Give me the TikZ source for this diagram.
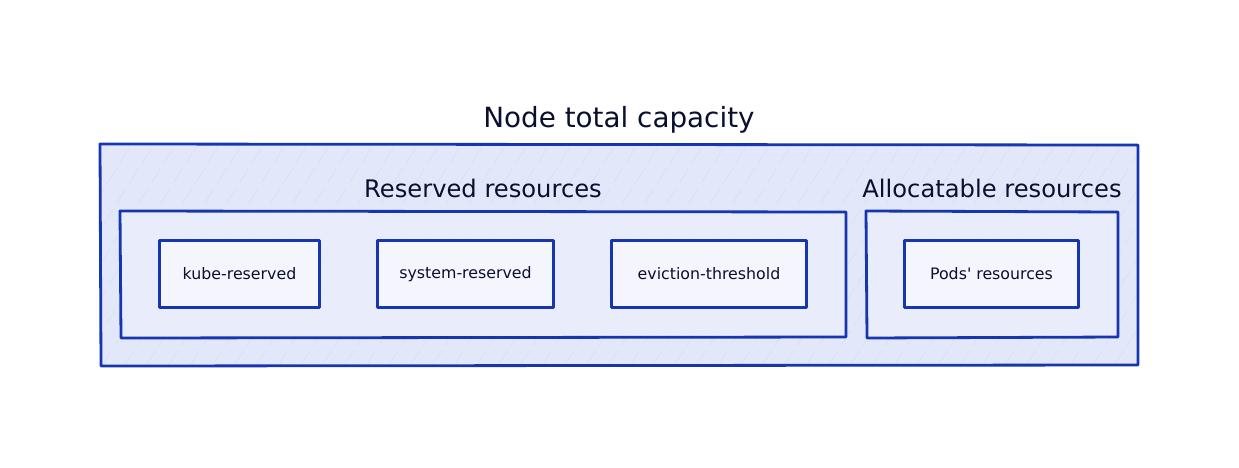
\documentclass[tikz,border=0pt]{standalone}
\usepackage{fontspec}
\setmainfont{DejaVu Sans}
\usetikzlibrary{positioning}

\definecolor{edgeblue}{HTML}{1636B0}
\definecolor{outerfill}{HTML}{E2E7F9}
\definecolor{midfill}{HTML}{ECEFFB}
\definecolor{innerfill}{HTML}{F5F6FD}
\definecolor{hatch}{HTML}{D8DDF1}
\definecolor{inktext}{HTML}{0B0F2E}

\begin{document}
\begin{tikzpicture}[x=1pt,y=-1pt,
  every node/.style={inner sep=0pt,text=inktext},
  capbox/.style={draw=edgeblue,line width=2.8pt,line join=round,line cap=round},
  resbox/.style={fill=innerfill,minimum height=66pt,font=\fontsize{15.8}{18}\selectfont},
  title/.style={font=\fontsize{27.8}{32}\selectfont},
  grouptitle/.style={font=\fontsize{24.2}{28}\selectfont}]
\useasboundingbox (0,0) rectangle (1239,467);
% node total capacity
\fill [outerfill] (100,144) -- (1138,145) -- (1138,365) -- (101,366) -- cycle;
\begin{scope}
\clip (100,144) rectangle (1138,366);
\foreach \i in {0,22,...,1400}
  \draw [hatch,line width=0.5pt,dash pattern=on 18pt off 6pt] (\i-140,366) -- (\i,144);
\end{scope}
\draw [capbox] (100,144) -- (1138,145) -- (1138,365) -- (101,366) -- cycle;
\node [title] (total) at (619,120) {Node total capacity};
% reserved / allocatable groups
\fill [midfill,opacity=0.75] (120,211) -- (846,212) -- (846,337) -- (121,338) -- cycle;
\draw [capbox] (120,211) -- (846,212) -- (846,337) -- (121,338) -- cycle;
\node [grouptitle] (reserved) at (483,188) {Reserved resources};
\fill [midfill,opacity=0.75] (866,211) -- (1118,212) -- (1118,337) -- (867,338) -- cycle;
\draw [capbox] (866,211) -- (1118,212) -- (1118,337) -- (867,338) -- cycle;
\node [grouptitle] (allocatable) at (992,188) {Allocatable resources};
% resource boxes
\node [resbox,minimum width=159pt] (kube) at (239.5,274) {kube-reserved};
\node [resbox,minimum width=175pt] (system) at (465.5,274) {system-reserved};
\node [resbox,minimum width=194pt] (eviction) at (709,274) {eviction-threshold};
\node [resbox,minimum width=173pt] (pods) at (991.5,274) {Pods\textquotesingle{} resources};
\foreach \n in {kube,system,eviction,pods}
  \draw [capbox] (\n.north west) rectangle (\n.south east);
\end{tikzpicture}
\end{document}
